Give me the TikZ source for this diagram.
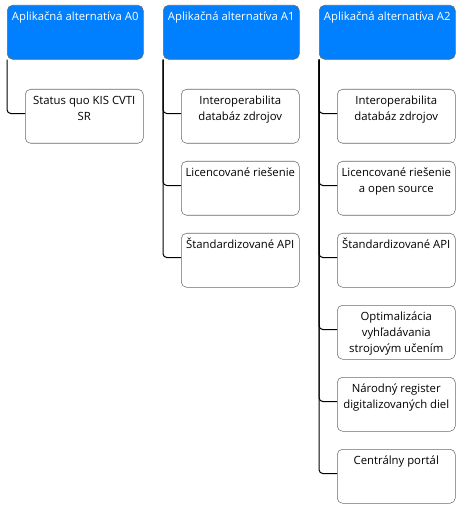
\documentclass[tikz,border=0pt]{standalone}
\usepackage{fontspec}
\setmainfont{Open Sans}
\usepackage{xcolor}
\usetikzlibrary{positioning}
\definecolor{altblue}{RGB}{0,128,255}
\definecolor{boxgray}{RGB}{105,105,105}
\newcommand{\headtext}[1]{\parbox[t][34.5pt][t]{98pt}{\centering\strut #1}}
\newcommand{\itemtext}[1]{\parbox[t][34.5pt][t]{84.5pt}{\centering\strut #1}}
\tikzset{
  althead/.style={draw=boxgray, fill=altblue, text=white, rounded corners=4pt,
    inner xsep=2pt, inner ysep=3pt, anchor=north west, font=\fontsize{8.5}{12}\selectfont},
  altitem/.style={draw=boxgray, fill=white, rounded corners=4pt,
    inner xsep=2pt, inner ysep=3pt, anchor=north west, font=\fontsize{8.5}{12}\selectfont},
  branch/.style={draw=black, line width=0.75pt, rounded corners=3pt}
}

\begin{document}
\begin{tikzpicture}[x=0.75pt,y=-0.75pt]
    \useasboundingbox (0,0) rectangle (460,509);
    % headers
    \node[althead] (h0) at (7,5) {\headtext{Aplikačná alternatíva A0}};
    \node[althead] (h1) at (163,5) {\headtext{Aplikačná alternatíva A1}};
    \node[althead] (h2) at (319,5) {\headtext{Aplikačná alternatíva A2}};
    % A0
    \node[altitem] (c0a) at (25,89) {\itemtext{Status quo KIS CVTI\\SR}};
    % A1
    \node[altitem] (c1a) at (181,89) {\itemtext{Interoperabilita\\databáz zdrojov}};
    \node[altitem] (c1b) at (181,161) {\itemtext{Licencované riešenie}};
    \node[altitem] (c1c) at (181,233) {\itemtext{Štandardizované API}};
    % A2
    \node[altitem] (c2a) at (337,89) {\itemtext{Interoperabilita\\databáz zdrojov}};
    \node[altitem] (c2b) at (337,161) {\itemtext{Licencované riešenie\\a open source}};
    \node[altitem] (c2c) at (337,233) {\itemtext{Štandardizované API}};
    \node[altitem] (c2d) at (337,305) {\itemtext{Optimalizácia\\vyhľadávania\\strojovým učením}};
    \node[altitem] (c2e) at (337,377) {\itemtext{Národný register\\digitalizovaných diel}};
    \node[altitem] (c2f) at (337,449) {\itemtext{Centrálny portál}};
    % branches
    \draw[branch] (h0.south west) |- ([yshift=2pt]c0a.west);
    \foreach \c in {c1a,c1b,c1c}
        \draw[branch] (h1.south west) |- ([yshift=2pt]\c.west);
    \foreach \c in {c2a,c2b,c2c,c2d,c2e,c2f}
        \draw[branch] (h2.south west) |- ([yshift=2pt]\c.west);
\end{tikzpicture}
\end{document}
